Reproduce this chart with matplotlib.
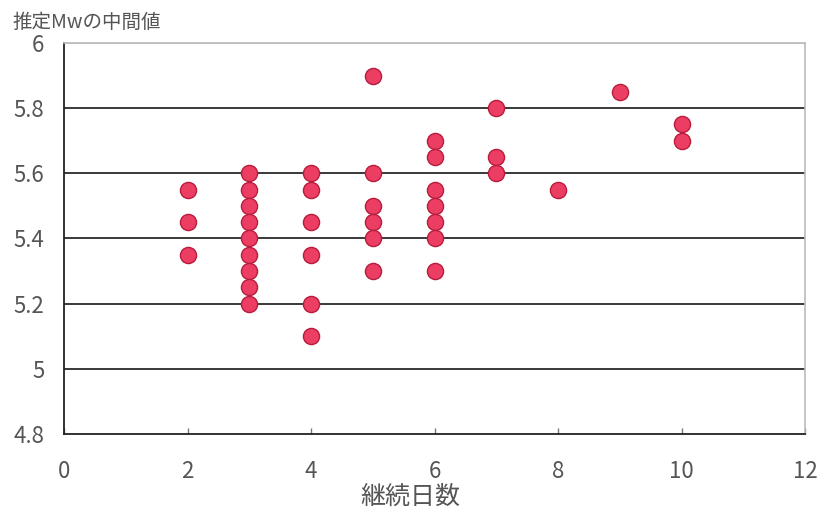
import matplotlib
matplotlib.use("Agg")
import matplotlib.pyplot as plt

plt.rcParams['font.family'] = ['Noto Sans CJK JP', 'DejaVu Sans']

days = [2, 2, 2,
        3, 3, 3, 3, 3, 3, 3, 3, 3,
        4, 4, 4, 4, 4, 4,
        5, 5, 5, 5, 5, 5,
        6, 6, 6, 6, 6, 6, 6,
        7, 7, 7,
        8,
        9,
        10, 10]
mw_median = [5.55, 5.45, 5.35,
             5.60, 5.55, 5.50, 5.45, 5.40, 5.35, 5.30, 5.25, 5.20,
             5.60, 5.55, 5.45, 5.35, 5.20, 5.10,
             5.90, 5.60, 5.50, 5.45, 5.40, 5.30,
             5.70, 5.65, 5.55, 5.50, 5.45, 5.40, 5.30,
             5.80, 5.65, 5.60,
             5.55,
             5.85,
             5.75, 5.70]
x_ticks = [0, 2, 4, 6, 8, 10, 12]
y_ticks = [4.8, 5.0, 5.2, 5.4, 5.6, 5.8, 6.0]
y_tick_labels = ['4.8', '5', '5.2', '5.4', '5.6', '5.8', '6']

fig = plt.figure(figsize=(8.2, 5.11), dpi=100)
ax = fig.add_axes([0.078, 0.151, 0.904, 0.765])

for y in y_ticks[1:-1]:
    ax.axhline(y, color='#2a2a2a', lw=1.3, zorder=1)
ax.axhline(6.0, color='#bbbbbb', lw=1.2, zorder=1)

ax.scatter(days, mw_median, s=135, color='#ec3d62', edgecolors='#b81c3c',
           linewidths=1.0, zorder=3)

ax.set_xlim(0, 12)
ax.set_ylim(4.8, 6.0)
ax.set_xticks(x_ticks)
ax.set_yticks(y_ticks)
ax.set_yticklabels(y_tick_labels)
ax.tick_params(axis='y', length=0, pad=14, labelsize=16, labelcolor='#555555')
ax.tick_params(axis='x', direction='in', length=4, width=1, color='#777777',
               pad=19, labelsize=16, labelcolor='#555555')

for s in ['left', 'bottom']:
    ax.spines[s].set_color('#222222')
    ax.spines[s].set_linewidth(1.3)
for s in ['top', 'right']:
    ax.spines[s].set_color('#bbbbbb')
    ax.spines[s].set_linewidth(1.2)

fig.text(410 / 820, 1 - 497 / 511, '継続日数', ha='center', va='center',
         fontsize=18, color='#555555')
fig.text(12 / 820, 1 - 22 / 511, '推定Mwの中間値', ha='left', va='center',
         fontsize=14, color='#555555')

fig.savefig('out.png', dpi=100)
